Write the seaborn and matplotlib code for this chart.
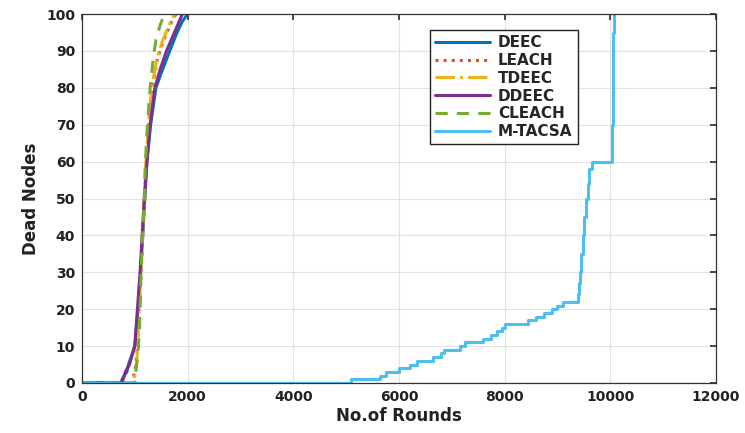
import matplotlib
matplotlib.use("Agg")
import matplotlib.pyplot as plt
import seaborn as sns
import pandas as pd

sns.set_theme(style="whitegrid")
plt.rcParams["font.family"] = ["DejaVu Sans"]

# Cumulative dead nodes against simulation rounds for each protocol
deec_rounds = [0, 740, 760, 800, 850, 880, 930, 1000, 1060, 1110, 1150, 1190, 1230, 1300, 1400, 1500, 1660, 1800, 1900, 2000]
deec_dead = [0, 0, 1, 2, 3, 5, 7, 10, 20, 30, 40, 50, 60, 70, 80, 84, 90, 95, 98, 100]

leach_rounds = [0, 950, 980, 1020, 1050, 1080, 1120, 1150, 1190, 1220, 1270, 1330, 1430, 1550, 1700, 1780]
leach_dead = [0, 0, 2, 5, 10, 20, 30, 40, 50, 60, 70, 80, 88, 93, 98, 100]

tdeec_rounds = [0, 980, 1000, 1040, 1070, 1100, 1140, 1180, 1210, 1260, 1320, 1420, 1530, 1680, 1760]
tdeec_dead = [0, 0, 2, 6, 15, 25, 40, 50, 60, 70, 80, 88, 93, 98, 100]

ddeec_rounds = [0, 750, 780, 820, 900, 960, 1000, 1050, 1100, 1140, 1180, 1230, 1290, 1380, 1480, 1600, 1750, 1900]
ddeec_dead = [0, 0, 1, 3, 5, 8, 10, 20, 30, 40, 50, 60, 70, 80, 85, 90, 95, 100]

cleach_rounds = [0, 1000, 1020, 1060, 1090, 1120, 1150, 1180, 1200, 1240, 1290, 1350, 1400, 1480, 1560]
cleach_dead = [0, 0, 3, 8, 15, 30, 40, 50, 60, 70, 80, 88, 93, 97, 100]

mtacsa_rounds = [0, 5100, 5650, 5750, 6000, 6200, 6350, 6650, 6800, 6850,
                 7150, 7250, 7600, 7750, 7850, 7950, 8000, 8450, 8600, 8750,
                 8900, 9000, 9100, 9380, 9400, 9420, 9450, 9480, 9510, 9540, 9570, 9600, 9650,
                 10040, 10050, 10060, 10070]
mtacsa_dead = [0, 1, 2, 3, 4, 5, 6, 7, 8, 9,
               10, 11, 12, 13, 14, 15, 16, 17, 18, 19,
               20, 21, 22, 24, 27, 30, 35, 40, 45, 50, 54, 58, 60,
               70, 85, 95, 100]

series = [
    ("DEEC", deec_rounds, deec_dead, "#0072BD", "-", "default"),
    ("LEACH", leach_rounds, leach_dead, "#D95319", ":", "default"),
    ("TDEEC", tdeec_rounds, tdeec_dead, "#EDB120", "-.", "default"),
    ("DDEEC", ddeec_rounds, ddeec_dead, "#7E2F8E", "-", "default"),
    ("CLEACH", cleach_rounds, cleach_dead, "#77AC30", (0, (4, 3)), "default"),
    ("M-TACSA", mtacsa_rounds, mtacsa_dead, "#4DBEEE", "-", "steps-post"),
]

fig = plt.figure(figsize=(7.45, 4.33), dpi=100)
ax = fig.add_axes([0.110, 0.1155, 0.851, 0.852])

for name, xs, ys, color, ls, ds in series:
    df = pd.DataFrame({"rounds": xs, "dead": ys})
    sns.lineplot(data=df, x="rounds", y="dead", ax=ax, estimator=None, sort=False,
                 color=color, linestyle=ls, linewidth=2.2, drawstyle=ds, label=name)

ax.set_xlim(0, 12000)
ax.set_ylim(0, 100)
ax.set_xticks(range(0, 12001, 2000))
ax.set_yticks(range(0, 101, 10))
ax.grid(True, color="#e2e2e2", linewidth=0.8)
for s in ax.spines.values():
    s.set_color("#333333")
    s.set_linewidth(0.9)
ax.tick_params(direction="in", top=True, right=True, length=4, color="#333333",
               labelsize=10, pad=5)
for lbl in ax.get_xticklabels() + ax.get_yticklabels():
    lbl.set_fontweight("bold")
    lbl.set_color("#222222")

ax.set_xlabel("No.of Rounds", fontsize=12, fontweight="bold", color="#222222", labelpad=2)
ax.set_ylabel("Dead Nodes", fontsize=12, fontweight="bold", color="#222222", labelpad=4)

leg = ax.legend(loc="upper left", bbox_to_anchor=(0.549, 0.957), frameon=True, fancybox=False,
                edgecolor="#222222", facecolor="white", framealpha=1, handlelength=3.6,
                prop={"weight": "bold", "size": 11}, borderpad=0.35, labelspacing=0.18,
                handletextpad=0.5, borderaxespad=0)
leg.get_frame().set_linewidth(1.0)

fig.savefig("out.png", dpi=100)
